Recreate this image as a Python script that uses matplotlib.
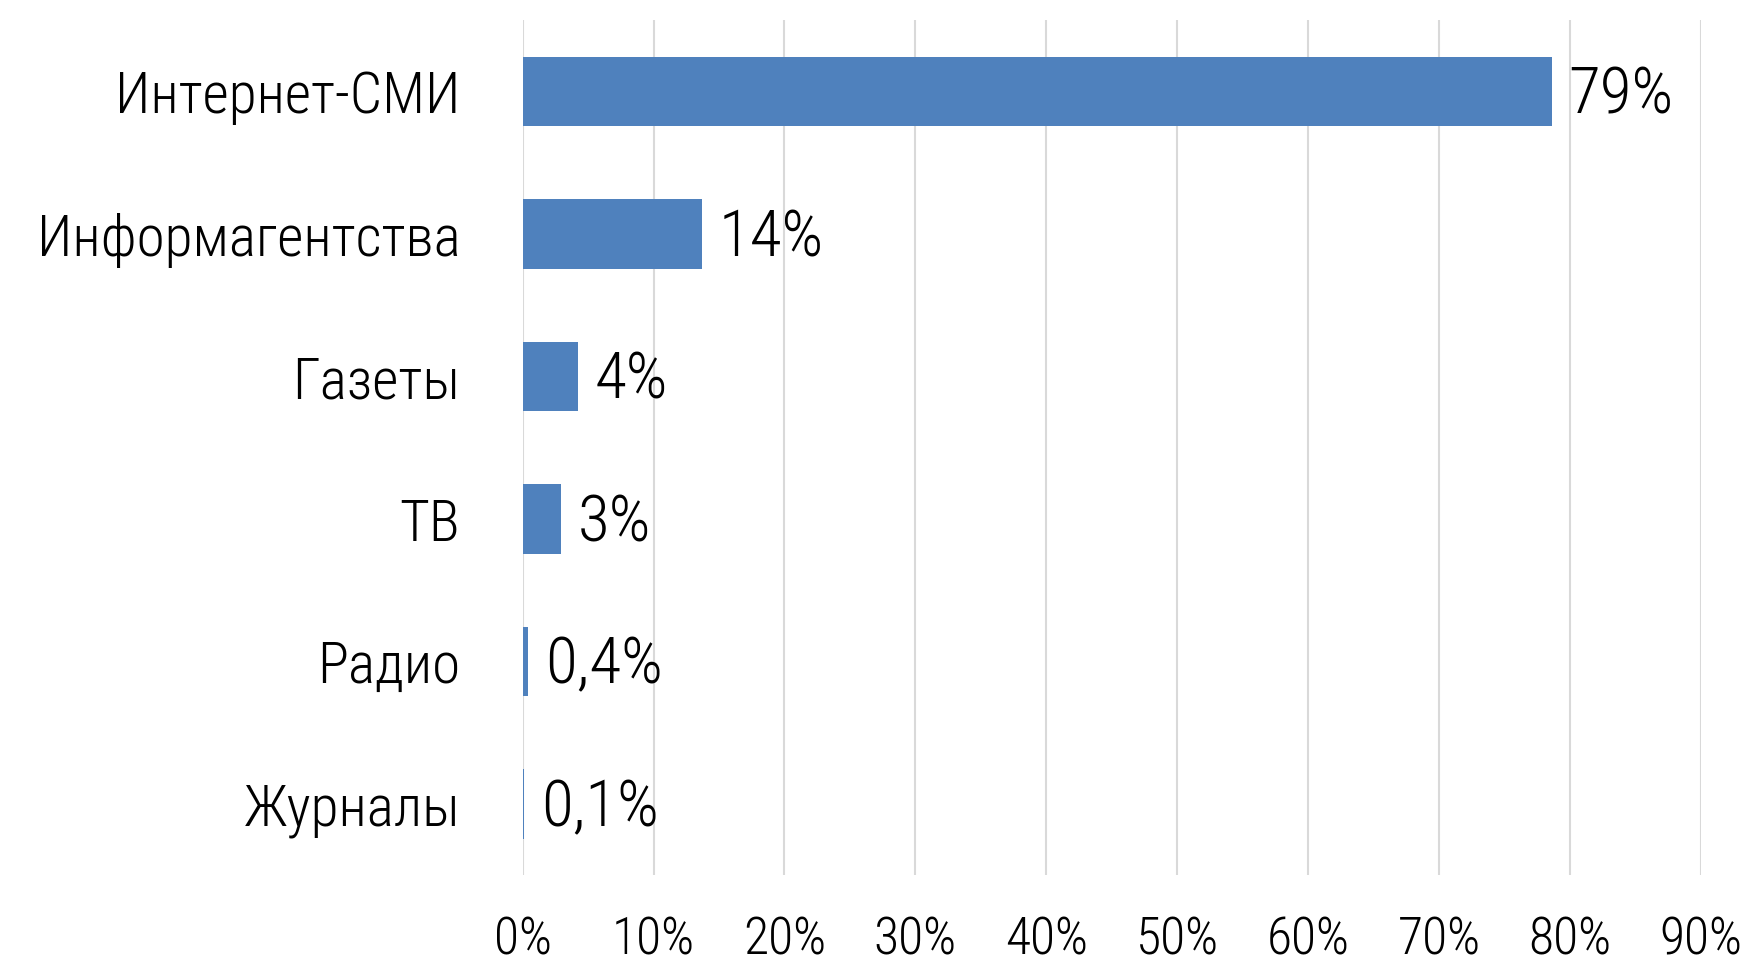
import matplotlib
matplotlib.use('Agg')
import matplotlib.pyplot as plt

categories = ['Интернет-СМИ', 'Информагентства', 'Газеты', 'ТВ', 'Радио', 'Журналы']
values = [78.6, 13.7, 4.2, 2.9, 0.4, 0.1]
value_labels = ['79%', '14%', '4%', '3%', '0,4%', '0,1%']
ticks = list(range(0, 100, 10))
tick_labels = [f'{t}%' for t in ticks]

plt.rcParams['font.family'] = ['Roboto Condensed', 'Liberation Sans Narrow', 'Liberation Sans', 'DejaVu Sans']
plt.rcParams['font.weight'] = 'light'

fig = plt.figure(figsize=(17.48, 9.65), dpi=100)
ax = fig.add_axes([0.299, 0.093, 0.674, 0.886])
renderer = fig.canvas.get_renderer()


def fit_size(text, width_px, max_size):
    # shrink font until text is no wider than in the reference
    t = fig.text(0, 0, text, fontsize=max_size)
    w = t.get_window_extent(renderer).width
    t.remove()
    return min(max_size, max_size * width_px / w)


cat_size = fit_size('Информагентства', 424, 54)
val_size = fit_size('79%', 105, 48)
tick_size = fit_size('80%', 83, 40)

y = list(range(len(categories)))
ax.barh(y, values, height=0.49, color='#4F81BD', zorder=3)
for yi, v, lab in zip(y, values, value_labels):
    ax.text(v + 1.3, yi + 0.03, lab, va='center', ha='left', fontsize=val_size)

ax.set_xlim(0, 90)
ax.set_ylim(len(categories) - 0.5, -0.5)
ax.set_yticks(y)
ax.set_yticklabels(categories, fontsize=cat_size)
ax.set_xticks(ticks)
ax.set_xticklabels(tick_labels, fontsize=tick_size)
ax.tick_params(axis='x', length=0, pad=29)
ax.tick_params(axis='y', length=0, pad=45)
ax.grid(axis='x', color='#d9d9d9', linewidth=1.5, zorder=0)
for s in ax.spines.values():
    s.set_visible(False)

fig.savefig('out.png', dpi=100)
